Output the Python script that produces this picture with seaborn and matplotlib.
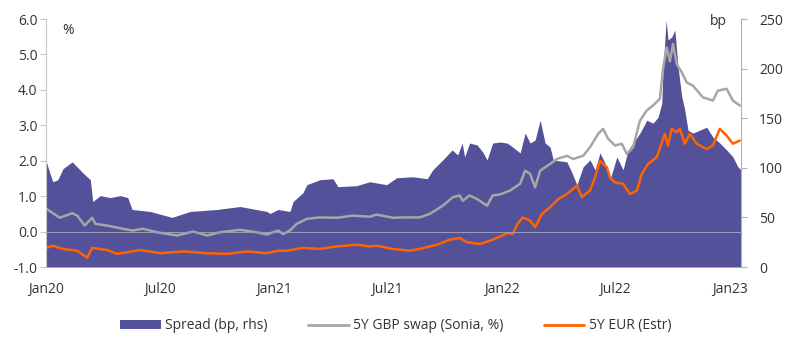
import pandas as pd
import numpy as np
import matplotlib.pyplot as plt
from matplotlib.patches import Patch
from matplotlib.lines import Line2D
import seaborn as sns

# spread, bp (right axis)
spread_dates = [
    "2020-01-01", "2020-01-07", "2020-01-12", "2020-01-20", "2020-01-28", "2020-02-12",
    "2020-02-29", "2020-03-12", "2020-03-16", "2020-03-28", "2020-04-13", "2020-04-29",
    "2020-05-11", "2020-05-18", "2020-06-16", "2020-07-21", "2020-08-19", "2020-10-01",
    "2020-11-07", "2020-12-20", "2020-12-25", "2021-01-07", "2021-01-26", "2021-01-31",
    "2021-02-16", "2021-02-22", "2021-03-15", "2021-04-05", "2021-04-13", "2021-05-13",
    "2021-06-03", "2021-06-30", "2021-07-16", "2021-08-11", "2021-09-03", "2021-09-12",
    "2021-09-28", "2021-10-13", "2021-10-22", "2021-10-29", "2021-11-02", "2021-11-10",
    "2021-11-22", "2021-12-01", "2021-12-08", "2021-12-17", "2021-12-29", "2022-01-09",
    "2022-01-18", "2022-01-30", "2022-02-07", "2022-02-15", "2022-02-23", "2022-03-03",
    "2022-03-11", "2022-03-19", "2022-03-24", "2022-04-15", "2022-04-23", "2022-05-01",
    "2022-05-11", "2022-05-22", "2022-05-30", "2022-06-07", "2022-06-18", "2022-06-23",
    "2022-07-04", "2022-07-14", "2022-07-22", "2022-07-30", "2022-08-10", "2022-08-21",
    "2022-08-31", "2022-09-08", "2022-09-14", "2022-09-16", "2022-09-21", "2022-09-24",
    "2022-09-30", "2022-10-05", "2022-10-10", "2022-10-16", "2022-10-21", "2022-10-26",
    "2022-11-03", "2022-11-14", "2022-11-25", "2022-12-05", "2022-12-16", "2022-12-27",
    "2023-01-06", "2023-01-14", "2023-01-19",
]
spread_bp = [
    107, 95, 86, 88, 99, 106,
    95, 88, 66, 72, 70, 72,
    70, 58, 56, 50, 56, 58,
    61, 56, 54, 58, 56, 66,
    75, 83, 88, 89, 81, 82,
    86, 83, 90, 91, 89, 98,
    108, 118, 113, 125, 111, 125,
    123, 116, 108, 125, 126, 125,
    121, 115, 135, 125, 128, 148,
    125, 121, 108, 106, 95, 83,
    101, 108, 98, 115, 101, 88,
    111, 98, 118, 125, 135, 148,
    145, 151, 165, 199, 249, 229,
    232, 239, 202, 172, 158, 138,
    135, 138, 141, 131, 125, 118,
    111, 101, 98,
]

# 5Y GBP swap (Sonia), %
gbp_dates = [
    "2020-01-02", "2020-01-23", "2020-02-12", "2020-02-20", "2020-03-03", "2020-03-15",
    "2020-03-20", "2020-04-08", "2020-05-03", "2020-05-19", "2020-06-04", "2020-06-27",
    "2020-07-29", "2020-08-24", "2020-09-15", "2020-10-06", "2020-11-07", "2020-12-04",
    "2020-12-20", "2021-01-07", "2021-01-15", "2021-01-26", "2021-02-06", "2021-02-22",
    "2021-03-15", "2021-04-11", "2021-05-07", "2021-06-03", "2021-06-14", "2021-07-10",
    "2021-07-26", "2021-08-22", "2021-09-07", "2021-09-28", "2021-10-14", "2021-10-25",
    "2021-10-30", "2021-11-10", "2021-11-22", "2021-12-08", "2021-12-17", "2021-12-29",
    "2022-01-14", "2022-01-30", "2022-02-07", "2022-02-15", "2022-02-23", "2022-03-03",
    "2022-03-19", "2022-03-30", "2022-04-15", "2022-04-25", "2022-05-11", "2022-05-22",
    "2022-06-04", "2022-06-12", "2022-06-20", "2022-07-01", "2022-07-12", "2022-07-20",
    "2022-07-30", "2022-08-10", "2022-08-21", "2022-08-31", "2022-09-11", "2022-09-16",
    "2022-09-22", "2022-09-27", "2022-10-02", "2022-10-08", "2022-10-16", "2022-10-24",
    "2022-11-03", "2022-11-19", "2022-12-05", "2022-12-13", "2022-12-27", "2023-01-06",
    "2023-01-17",
]
gbp_swap = [
    0.64, 0.39, 0.52, 0.45, 0.17, 0.39,
    0.22, 0.17, 0.08, 0.03, 0.08, -0.02,
    -0.11, 0.00, -0.11, -0.02, 0.05, -0.02,
    -0.08, 0.03, -0.07, 0.03, 0.22, 0.36,
    0.40, 0.39, 0.45, 0.42, 0.48, 0.39,
    0.40, 0.40, 0.50, 0.73, 0.97, 1.02,
    0.87, 1.02, 0.92, 0.73, 1.02, 1.05,
    1.16, 1.35, 1.72, 1.63, 1.25, 1.72,
    1.91, 2.05, 2.14, 2.05, 2.14, 2.38,
    2.76, 2.90, 2.62, 2.43, 2.48, 2.19,
    2.38, 3.13, 3.42, 3.56, 3.75, 4.60,
    5.20, 4.80, 5.30, 4.73, 4.50, 4.21,
    4.12, 3.79, 3.70, 3.98, 4.03, 3.70,
    3.56,
]

# 5Y EUR (Estr), %
eur_dates = [
    "2020-01-02", "2020-01-12", "2020-01-28", "2020-02-20", "2020-03-07", "2020-03-15",
    "2020-04-08", "2020-04-24", "2020-05-31", "2020-07-02", "2020-08-08", "2020-09-15",
    "2020-10-17", "2020-11-18", "2020-12-20", "2021-01-07", "2021-01-21", "2021-02-16",
    "2021-03-15", "2021-04-11", "2021-05-13", "2021-06-03", "2021-06-14", "2021-07-10",
    "2021-08-06", "2021-08-22", "2021-09-19", "2021-10-09", "2021-10-25", "2021-11-06",
    "2021-11-27", "2021-12-17", "2021-12-29", "2022-01-10", "2022-01-18", "2022-01-26",
    "2022-02-03", "2022-02-15", "2022-02-23", "2022-03-06", "2022-03-19", "2022-04-01",
    "2022-04-15", "2022-05-01", "2022-05-09", "2022-05-22", "2022-05-30", "2022-06-07",
    "2022-06-18", "2022-06-23", "2022-07-01", "2022-07-14", "2022-07-25", "2022-08-05",
    "2022-08-13", "2022-08-23", "2022-09-06", "2022-09-19", "2022-09-24", "2022-09-30",
    "2022-10-08", "2022-10-13", "2022-10-21", "2022-10-29", "2022-11-09", "2022-11-25",
    "2022-12-05", "2022-12-16", "2022-12-27", "2023-01-06", "2023-01-17",
]
eur_swap = [
    -0.46, -0.40, -0.49, -0.54, -0.74, -0.46,
    -0.52, -0.63, -0.52, -0.61, -0.56, -0.61,
    -0.63, -0.56, -0.61, -0.54, -0.54, -0.46,
    -0.49, -0.42, -0.37, -0.42, -0.40, -0.49,
    -0.54, -0.49, -0.37, -0.23, -0.18, -0.30,
    -0.35, -0.23, -0.14, -0.04, -0.07, 0.22,
    0.40, 0.31, 0.12, 0.50, 0.69, 0.92,
    1.06, 1.30, 0.97, 1.16, 1.53, 2.00,
    1.81, 1.53, 1.39, 1.35, 1.06, 1.16,
    1.63, 1.91, 2.10, 2.76, 2.43, 2.90,
    2.80, 2.90, 2.48, 2.76, 2.48, 2.33,
    2.43, 2.90, 2.71, 2.48, 2.57,
]

tick_dates = ["2020-01-01", "2020-07-01", "2021-01-01", "2021-07-01",
              "2022-01-01", "2022-07-01", "2023-01-01"]
tick_labels = ["Jan20", "Jul20", "Jan21", "Jul21", "Jan22", "Jul22", "Jan23"]

PURPLE = "#52519A"
GREY = "#A6A6A6"
ORANGE = "#FF6200"
TEXT = "#333333"

spread = pd.DataFrame({"date": pd.to_datetime(spread_dates), "bp": spread_bp})
gbp = pd.DataFrame({"date": pd.to_datetime(gbp_dates), "pct": gbp_swap})
eur = pd.DataFrame({"date": pd.to_datetime(eur_dates), "pct": eur_swap})

sns.set_style("white")
plt.rcParams["font.family"] = ["Open Sans", "DejaVu Sans"]
FS = 10

fig = plt.figure(figsize=(8, 3.53), dpi=100)
ax = fig.add_axes([0.0575, 0.2436, 0.86875, 0.7024])
ax2 = ax.twinx()

# spread area on the right axis, drawn underneath the lines
ax2.fill_between(spread["date"], 0, spread["bp"], color=PURPLE, lw=0)
ax2.set_ylim(0, 250)
ax2.set_yticks([0, 50, 100, 150, 200, 250])
ax.set_zorder(ax2.get_zorder() + 1)
ax.patch.set_visible(False)

sns.lineplot(data=gbp, x="date", y="pct", ax=ax, color=GREY, lw=1.8)
sns.lineplot(data=eur, x="date", y="pct", ax=ax, color=ORANGE, lw=1.8)

ax.set_ylim(-1, 6)
ax.set_yticks(np.arange(-1, 7, 1))
ax.set_yticklabels([f"{v:.1f}" for v in np.arange(-1, 7, 1)])
ax.set_xlim(pd.Timestamp("2020-01-01"), pd.Timestamp("2023-01-19"))
ax.set_xticks(pd.to_datetime(tick_dates))
ax.set_xticklabels(tick_labels)
ax.set_xlabel("")
ax.set_ylabel("")

# zero line doubles as the x axis
ax.spines["bottom"].set_position(("data", 0))
ax.spines["bottom"].set_color("#9A9AB0")
ax.spines["bottom"].set_linewidth(0.8)
ax.spines["top"].set_visible(False)
ax.spines["right"].set_visible(False)
ax.spines["left"].set_color("#C8C8C8")
ax.tick_params(axis="x", direction="out", length=4, width=0.8, color="#9A9AB0",
               pad=32, labelsize=FS, labelcolor=TEXT)
ax.tick_params(axis="y", direction="out", length=4, width=0.8, color="#C8C8C8",
               pad=2, labelsize=FS, labelcolor=TEXT)

for s in ["top", "bottom", "left"]:
    ax2.spines[s].set_visible(False)
ax2.spines["right"].set_color("#B0B0B0")
ax2.tick_params(axis="y", direction="out", length=4, width=0.8, color="#B0B0B0",
                pad=9, labelsize=FS, labelcolor=TEXT)

ax.text(0.032, 0.955, "%", transform=ax.transAxes, ha="center", va="center",
        fontsize=FS, color=TEXT)
ax.text(0.967, 0.99, "bp", transform=ax.transAxes, ha="center", va="center",
        fontsize=FS, color=TEXT)

handles = [
    Patch(facecolor=PURPLE, edgecolor="none"),
    Line2D([], [], color=GREY, lw=2),
    Line2D([], [], color=ORANGE, lw=2),
]
labels = ["Spread (bp, rhs)", "5Y GBP swap (Sonia, %)", "5Y EUR (Estr)"]
fig.legend(handles, labels, loc="center", bbox_to_anchor=(0.495, 0.077), ncol=3,
           frameon=False, fontsize=FS, handlelength=2.9, handleheight=0.55,
           handletextpad=0.35, columnspacing=2.9, labelcolor=TEXT)

fig.savefig("out.png", dpi=100)
